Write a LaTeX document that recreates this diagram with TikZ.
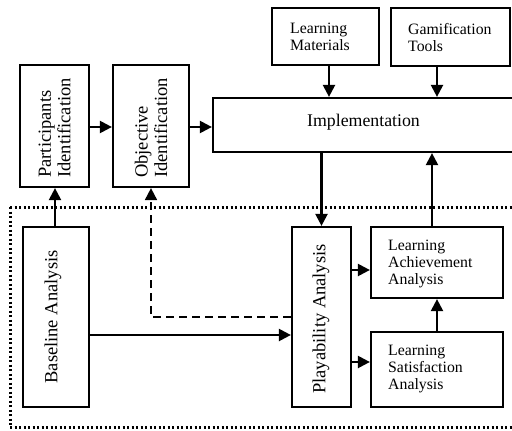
\documentclass[tikz,border=0pt]{standalone}
\usepackage{fontspec}
\setmainfont{Liberation Serif}
\usetikzlibrary{arrows.meta,calc}
\begin{document}
\begin{tikzpicture}[x=1pt,y=-1pt,
  box/.style={draw,line width=2.2pt,rectangle,inner sep=0pt},
  lbl/.style={inner sep=0pt,align=left,font=\fontsize{15.8}{17}\selectfont},
  vlbl/.style={inner sep=0pt,align=left,rotate=90,font=\fontsize{18.5}{19.5}\selectfont},
  arr/.style={line width=2.2pt,-{Triangle[length=12pt,width=12pt]}},
  dsh/.style={line width=1.8pt,dash pattern=on 8pt off 5pt,-{Triangle[length=12pt,width=12pt]}},
  dots/.style={line width=3pt,dash pattern=on 2.4pt off 2.1pt}]
\useasboundingbox (0,0) rectangle (512,431);
\clip (0,0) rectangle (512,431);
\fill[white] (0,0) rectangle (512,431);

% upper row of boxes
\node[box,minimum width=69pt,minimum height=122pt] (part) at (54.5,126) {};
\node[box,minimum width=76pt,minimum height=122pt] (obj) at (151,126) {};
\node[box,minimum width=304pt,minimum height=54pt] (impl) at (365,125) {};
\node[box,minimum width=107pt,minimum height=57pt] (mat) at (325.5,36.5) {};
\node[box,minimum width=119pt,minimum height=58pt] (gam) at (450.5,37) {};

% lower (analysis) boxes
\node[box,minimum width=66pt,minimum height=180pt] (base) at (56,317) {};
\node[box,minimum width=59pt,minimum height=180pt] (play) at (321.5,317) {};
\node[box,minimum width=132pt,minimum height=71pt] (ach) at (437,262.5) {};
\node[box,minimum width=132pt,minimum height=75pt] (sat) at (437,369.5) {};

% texts
\node[vlbl,anchor=west] (tpart) at (54.5,178) {Participants\\Identification};
\node[vlbl,anchor=west] (tobj) at (151,178) {Objective\\Identification};
\node[inner sep=0pt,font=\fontsize{17.8}{19}\selectfont] (timpl) at (363.5,122) {Implementation};
\node[lbl,anchor=west] (tmat) at (290,36.5) {Learning\\Materials};
\node[lbl,anchor=west] (tgam) at (408,38) {Gamification\\Tools};
\node[vlbl,align=center] (tbase) at (53,317) {Baseline Analysis};
\node[vlbl,align=center] (tplay) at (321,319) {Playability Analysis};
\node[lbl,anchor=west] (tach) at (388,264) {Learning\\Achievement\\Analysis};
\node[lbl,anchor=west] (tsat) at (388,368.5) {Learning\\Satisfaction\\Analysis};

% dotted frame around the analysis stage
\draw[dots] (10,207) -- (530,207);
\draw[dots] (10,427) -- (530,427);
\draw[dots] (10,207) -- (10,427);

% connectors
\draw[arr] (part.east |- 0,127) -- (obj.west |- 0,127);
\draw[arr] (obj.east |- 0,127) -- (impl.west |- 0,127);
\draw[arr] (mat.south -| 329,0) -- (impl.north -| 329,0);
\draw[arr] (gam.south -| 437,0) -- (impl.north -| 437,0);
\draw[arr] (impl.south -| 321.5,0) -- (play.north);
\draw[arr] (ach.north -| 432,0) -- (impl.south -| 432,0);
\draw[arr] (base.north -| 55,0) -- (part.south -| 55,0);
\draw[arr] (base.east |- 0,335) -- (play.west |- 0,335);
\draw[arr] (play.east |- 0,270) -- (ach.west |- 0,270);
\draw[arr] (play.east |- 0,362) -- (sat.west |- 0,362);
\draw[arr] (sat.north -| 437,0) -- (ach.south -| 437,0);
\draw[dsh] (play.west |- 0,317) -- (obj.south |- 0,317) -- (obj.south);
\end{tikzpicture}
\end{document}
